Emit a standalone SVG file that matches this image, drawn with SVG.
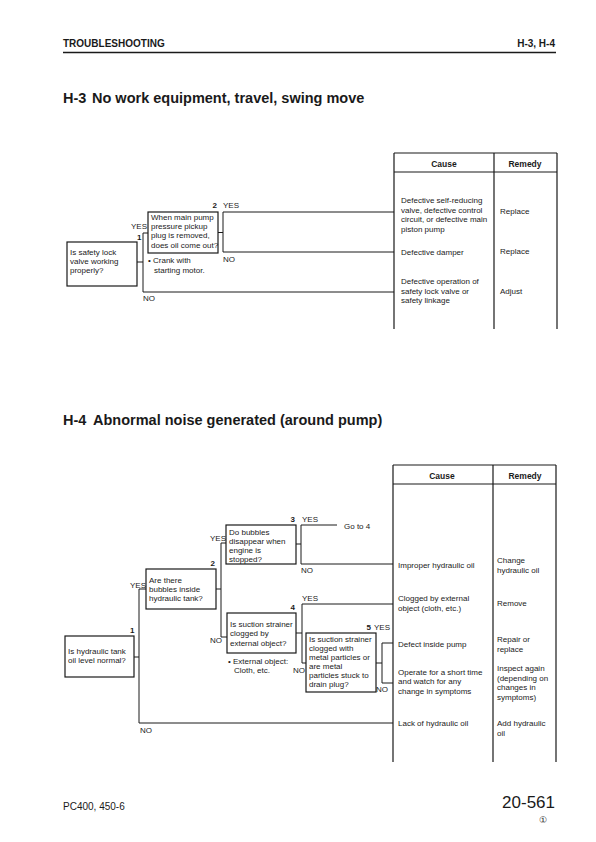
<svg xmlns="http://www.w3.org/2000/svg" width="596" height="842" viewBox="0 0 596 842">
<style>
text{font-family:"Liberation Sans",Arial,sans-serif;fill:#1a1a1a}
.t{font-size:8px}
.b{font-weight:bold}
.h{font-size:14.5px;font-weight:bold}
.hd{font-size:8.5px;font-weight:bold;text-anchor:middle}
.box{fill:#fff;stroke:#1a1a1a;stroke-width:1.2}
.ln{fill:none;stroke:#1a1a1a;stroke-width:1}
.tb{fill:none;stroke:#1a1a1a;stroke-width:1.2}
</style>
<rect width="596" height="842" fill="#fff"/>
<!-- header -->
<text x="63" y="47" class="b" font-size="10">TROUBLESHOOTING</text>
<text x="555" y="47" class="b" font-size="10" text-anchor="end">H-3, H-4</text>
<line x1="63" y1="52.5" x2="556" y2="52.5" stroke="#1a1a1a" stroke-width="1.3"/>
<!-- H-3 title -->
<text x="63" y="103" class="h">H-3<tspan x="92">No work equipment, travel, swing move</tspan></text>

<!-- H-3 table -->
<g id="h3-table">
<path class="tb" d="M394,153 H557 M394,172 H557 M394,153 V329 M494,153 V329 M557,153 V329"/>
<text x="444" y="167" class="hd">Cause</text>
<text x="525" y="167" class="hd">Remedy</text>
<text class="t" x="401" y="203">Defective self-reducing</text>
<text class="t" x="401" y="212.5">valve, defective control</text>
<text class="t" x="401" y="222">circuit, or defective main</text>
<text class="t" x="401" y="231.5">piston pump</text>
<text class="t" x="500" y="214">Replace</text>
<text class="t" x="401" y="254.5">Defective damper</text>
<text class="t" x="500" y="254">Replace</text>
<text class="t" x="401" y="284">Defective operation of</text>
<text class="t" x="401" y="293.5">safety lock valve or</text>
<text class="t" x="401" y="303">safety linkage</text>
<text class="t" x="500" y="294">Adjust</text>
</g>

<!-- H-3 connectors -->
<g id="h3-connectors">
<path class="ln" d="M137,262 H143 M143,233 V292 M143,233 H148 M143,292 H394"/>
<path class="ln" d="M218,232.5 H223 M223,212 V252 M223,212 H394 M223,252 H394"/>
<text class="t" x="131" y="229">YES</text>
<text class="t b" x="137" y="240">1</text>
<text class="t" x="143" y="301">NO</text>
<text class="t b" x="217" y="208" text-anchor="end">2</text>
<text class="t" x="223" y="208">YES</text>
<text class="t" x="223" y="262">NO</text>
</g>

<g id="h3-node1">
<rect class="box" x="67" y="242" width="70" height="44"/>
<text class="t" x="70" y="254.5">Is safety lock</text>
<text class="t" x="70" y="263.5">valve working</text>
<text class="t" x="70" y="273">properly?</text>
</g>
<g id="h3-node2">
<rect class="box" x="148" y="212" width="70" height="41"/>
<text class="t" x="151" y="219.5">When main pump</text>
<text class="t" x="151" y="228.5">pressure pickup</text>
<text class="t" x="151" y="238">plug is removed,</text>
<text class="t" x="151" y="247.5">does oil come out?</text>
<text class="t" x="148" y="263">• Crank with</text>
<text class="t" x="154" y="272.5">starting motor.</text>
</g>

<!-- H-4 title -->
<text x="63" y="425" class="h">H-4<tspan x="93">Abnormal noise generated (around pump)</tspan></text>

<!-- H-4 table -->
<g id="h4-table">
<path class="tb" d="M393,465 H556 M393,484 H556 M393,465 V762 M493,465 V762 M556,465 V762"/>
<text x="442" y="479" class="hd">Cause</text>
<text x="525" y="479" class="hd">Remedy</text>
<text class="t" x="398" y="568">Improper hydraulic oil</text>
<text class="t" x="497" y="563">Change</text>
<text class="t" x="497" y="572.5">hydraulic oil</text>
<text class="t" x="398" y="601">Clogged by external</text>
<text class="t" x="398" y="610.5">object (cloth, etc.)</text>
<text class="t" x="497" y="606">Remove</text>
<text class="t" x="398" y="647">Defect inside pump</text>
<text class="t" x="497" y="642">Repair or</text>
<text class="t" x="497" y="651.5">replace</text>
<text class="t" x="398" y="674.5">Operate for a short time</text>
<text class="t" x="398" y="684">and watch for any</text>
<text class="t" x="398" y="693.5">change in symptoms</text>
<text class="t" x="497" y="671">Inspect again</text>
<text class="t" x="497" y="680.5">(depending on</text>
<text class="t" x="497" y="690">changes in</text>
<text class="t" x="497" y="699.5">symptoms)</text>
<text class="t" x="398" y="726">Lack of hydraulic oil</text>
<text class="t" x="497" y="726">Add hydraulic</text>
<text class="t" x="497" y="735.5">oil</text>
</g>

<!-- H-4 connectors -->
<g id="h4-connectors">
<path class="ln" d="M134,657 H139 M139,589 V723 M139,589 H146 M139,723 H393"/>
<path class="ln" d="M216,589 H221 M221,543 V637 M221,543 H226 M221,637 H227"/>
<path class="ln" d="M296,544 H301 M301,525 V564 M301,525 H337 M301,564 H393"/>
<path class="ln" d="M296,633 H302 M302,604 V663 M302,604 H393 M302,663 H306"/>
<path class="ln" d="M376,663 H382 M382,643 V683 M382,643 H393 M382,683 H393"/>
<text class="t" x="130" y="633" font-weight="bold">1</text>
<text class="t" x="130" y="588">YES</text>
<text class="t" x="140" y="733">NO</text>
<text class="t b" x="215" y="566" text-anchor="end">2</text>
<text class="t" x="210" y="541">YES</text>
<text class="t" x="210" y="643">NO</text>
<text class="t b" x="295" y="522" text-anchor="end">3</text>
<text class="t" x="302" y="522">YES</text>
<text class="t" x="344" y="529">Go to 4</text>
<text class="t" x="301" y="573">NO</text>
<text class="t b" x="295" y="610" text-anchor="end">4</text>
<text class="t" x="302" y="601">YES</text>
<text class="t" x="293" y="673">NO</text>
<text class="t b" x="371" y="630" text-anchor="end">5</text>
<text class="t" x="374" y="630">YES</text>
<text class="t" x="376" y="692">NO</text>
</g>

<g id="h4-node1">
<rect class="box" x="65" y="636" width="69" height="41"/>
<text class="t" x="68" y="653.5">Is hydraulic tank</text>
<text class="t" x="68" y="663">oil level normal?</text>
</g>
<g id="h4-node2">
<rect class="box" x="146" y="569" width="70" height="40"/>
<text class="t" x="149" y="583">Are there</text>
<text class="t" x="149" y="592">bubbles inside</text>
<text class="t" x="149" y="601">hydraulic tank?</text>
</g>
<g id="h4-node3">
<rect class="box" x="226" y="525" width="70" height="39"/>
<text class="t" x="229" y="534.5">Do bubbles</text>
<text class="t" x="229" y="543.5">disappear when</text>
<text class="t" x="229" y="552.5">engine is</text>
<text class="t" x="229" y="561.5">stopped?</text>
</g>
<g id="h4-node4">
<rect class="box" x="227" y="613" width="69" height="40"/>
<text class="t" x="230" y="627">Is suction strainer</text>
<text class="t" x="230" y="636">clogged by</text>
<text class="t" x="230" y="645.5">external object?</text>
<text class="t" x="228" y="664">• External object:</text>
<text class="t" x="234" y="673">Cloth, etc.</text>
</g>
<g id="h4-node5">
<rect class="box" x="306" y="633" width="70" height="59"/>
<text class="t" x="309" y="642">Is suction strainer</text>
<text class="t" x="309" y="651">clogged with</text>
<text class="t" x="309" y="660">metal particles or</text>
<text class="t" x="309" y="669">are metal</text>
<text class="t" x="309" y="678">particles stuck to</text>
<text class="t" x="309" y="687">drain plug?</text>
</g>

<!-- footer -->
<text x="63" y="810" font-size="10">PC400, 450-6</text>
<text x="555" y="808" font-size="17" text-anchor="end">20-561</text>
<text x="543" y="823" font-size="9" text-anchor="middle">①</text>
</svg>
